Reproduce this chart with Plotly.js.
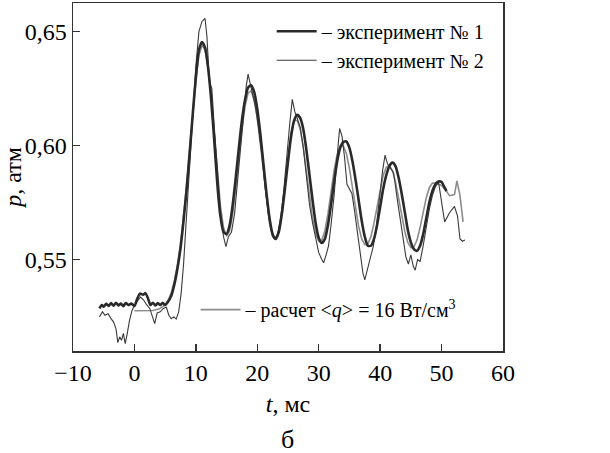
<!DOCTYPE html>
<html>
<head>
<meta charset="utf-8">
<script src="https://cdn.plot.ly/plotly-3.0.1.min.js"></script>
<style>
html,body{margin:0;padding:0;background:#fff;}
</style>
</head>
<body>
<div id="chart" style="width:610px;height:453px;"></div>
<script>
// Experiment No 1 (thick line)
const exp1T = [-5.7,-5.3,-5.0,-4.6,-4.2,-3.8,-3.4,-3.0,-2.6,-2.2,-1.8,-1.4,-1.0,-0.5,0,0.5,0.9,1.4,1.8,2.2,2.6,3.0,3.4,3.8,4.2,4.6,5.0,5.5,6.0,6.5,7.0,7.5,8.0,8.5,9.0,9.5,10.0,10.5,11.0,11.5,12.0,12.5,13.0,13.5,14.0,14.5,15.0,15.5,16.0,16.5,17.0,17.5,18.0,18.5,19.0,19.5,20.0,20.5,21.0,21.5,22.0,22.5,23.0,23.5,24.0,24.5,25.0,25.5,26.0,26.5,27.0,27.5,28.0,28.5,29.0,29.5,30.0,30.5,31.0,31.5,32.0,32.5,33.0,33.5,34.0,34.5,35.0,35.5,36.0,36.5,37.0,37.5,38.0,38.5,39.0,39.5,40.0,40.5,41.0,41.5,42.0,42.5,43.0,43.5,44.0,44.5,45.0,45.5,46.0,46.5,47.0,47.5,48.0,48.5,49.0,49.5,50.0,50.5,50.8];
const exp1P = [0.5285,0.5300,0.5292,0.5305,0.5296,0.5308,0.5297,0.5310,0.5298,0.5306,0.5295,0.5309,0.5300,0.5306,0.5296,0.5330,0.5350,0.5345,0.5352,0.5330,0.5300,0.5310,0.5298,0.5308,0.5300,0.5310,0.5300,0.5315,0.5340,0.5390,0.5460,0.5550,0.5670,0.5810,0.5970,0.6140,0.6300,0.6420,0.6455,0.6430,0.6340,0.6200,0.6020,0.5830,0.5690,0.5620,0.5612,0.5650,0.5740,0.5860,0.5990,0.6110,0.6200,0.6255,0.6265,0.6235,0.6160,0.6050,0.5920,0.5790,0.5680,0.5610,0.5590,0.5620,0.5700,0.5810,0.5930,0.6040,0.6110,0.6135,0.6120,0.6070,0.5980,0.5870,0.5760,0.5660,0.5595,0.5572,0.5590,0.5650,0.5740,0.5840,0.5930,0.5990,0.6015,0.6018,0.5990,0.5930,0.5850,0.5760,0.5670,0.5600,0.5560,0.5560,0.5590,0.5650,0.5730,0.5810,0.5870,0.5910,0.5925,0.5910,0.5860,0.5790,0.5710,0.5630,0.5575,0.5545,0.5538,0.5560,0.5610,0.5680,0.5750,0.5800,0.5830,0.5842,0.5840,0.5815,0.5800];

// Experiment No 2 (thin line)
const exp2T = [-5.7,-5.2,-4.8,-4.3,-3.8,-3.4,-3.0,-2.7,-2.4,-2.1,-1.8,-1.5,-1.2,-0.8,-0.4,0,0.5,1.0,1.5,2.0,2.5,3.0,3.3,3.7,4.2,4.7,5.2,5.6,6.0,6.4,6.8,7.2,7.6,8.0,8.5,9.0,9.5,10.0,10.5,11.0,11.5,11.8,12.2,12.6,13.0,13.5,14.0,14.5,14.9,15.3,15.8,16.3,16.8,17.3,17.8,18.2,18.5,18.8,19.2,19.7,20.2,20.8,21.3,21.8,22.3,22.8,23.3,23.8,24.3,24.8,25.3,25.7,26.1,26.5,27.0,27.5,28.0,28.5,29.0,29.5,30.0,30.5,30.8,31.2,31.6,32.0,32.5,33.0,33.4,33.8,34.2,34.6,35.0,35.4,35.8,36.3,36.8,37.2,37.5,37.9,38.4,38.9,39.4,39.9,40.4,40.8,41.2,41.7,42.2,42.7,43.2,43.7,44.2,44.6,45.0,45.4,45.7,46.1,46.5,47.0,47.5,48.0,48.5,49.0,49.5,50.0,50.5,51.3,52.1,52.6,53.0,53.4,53.8];
const exp2P = [0.5248,0.5270,0.5255,0.5262,0.5240,0.5225,0.5195,0.5135,0.5160,0.5145,0.5175,0.5130,0.5170,0.5232,0.5275,0.5300,0.5318,0.5335,0.5322,0.5300,0.5285,0.5240,0.5218,0.5265,0.5270,0.5285,0.5290,0.5255,0.5240,0.5248,0.5238,0.5270,0.5350,0.5480,0.5700,0.5930,0.6150,0.6350,0.6500,0.6545,0.6558,0.6480,0.6280,0.6250,0.6080,0.5880,0.5710,0.5600,0.5556,0.5600,0.5620,0.5700,0.5850,0.5980,0.6150,0.6260,0.6314,0.6280,0.6230,0.6170,0.6080,0.5950,0.5810,0.5700,0.5630,0.5590,0.5610,0.5680,0.5800,0.5960,0.6100,0.6203,0.6150,0.6120,0.6080,0.5990,0.5860,0.5740,0.5660,0.5600,0.5530,0.5500,0.5485,0.5520,0.5560,0.5650,0.5780,0.5950,0.6075,0.6040,0.5950,0.5830,0.5810,0.5790,0.5720,0.5620,0.5520,0.5440,0.5410,0.5450,0.5510,0.5560,0.5650,0.5780,0.5890,0.5958,0.5920,0.5900,0.5880,0.5780,0.5690,0.5600,0.5510,0.5480,0.5520,0.5470,0.5453,0.5500,0.5490,0.5560,0.5640,0.5720,0.5780,0.5820,0.5840,0.5750,0.5665,0.5705,0.5733,0.5690,0.5590,0.5580,0.5585];

// Calculation <q> = 16 W/cm3 (gray line)
const calcT = [0,1,2,3,4,5,5.5,6,6.5,7,7.5,8,8.5,9,9.5,10,10.5,11,11.5,12,12.5,13,13.5,14,14.5,15,15.5,16,16.5,17,17.5,18,18.5,19,19.5,20,20.5,21,21.5,22,22.5,23,23.5,24,24.5,25,25.5,26,26.5,27,27.5,28,28.5,29,29.5,30,30.5,31,31.5,32,32.5,33,33.5,34,34.5,35,35.5,36,36.5,37,37.5,38,38.5,39,39.5,40,40.5,41,41.5,42,42.5,43,43.5,44,44.5,45,45.5,46,46.5,47,47.5,48,48.5,49,49.5,50,50.5,51.3,52.1,52.5,53.0,53.5];
const calcP = [0.5275,0.5275,0.5275,0.5276,0.5282,0.5300,0.5322,0.5355,0.5405,0.5475,0.5565,0.5685,0.5825,0.5985,0.6145,0.6285,0.6395,0.6440,0.6420,0.6345,0.6215,0.6050,0.5880,0.5735,0.5640,0.5602,0.5625,0.5700,0.5815,0.5945,0.6070,0.6170,0.6230,0.6240,0.6200,0.6120,0.6005,0.5875,0.5755,0.5660,0.5600,0.5590,0.5630,0.5715,0.5830,0.5950,0.6055,0.6110,0.6110,0.6070,0.5990,0.5885,0.5775,0.5680,0.5612,0.5580,0.5585,0.5625,0.5700,0.5795,0.5890,0.5960,0.5998,0.6000,0.5965,0.5900,0.5815,0.5725,0.5645,0.5590,0.5565,0.5568,0.5600,0.5660,0.5735,0.5810,0.5870,0.5905,0.5912,0.5890,0.5840,0.5770,0.5695,0.5625,0.5575,0.5552,0.5555,0.5585,0.5640,0.5705,0.5770,0.5815,0.5835,0.5835,0.5830,0.5825,0.5810,0.5780,0.5785,0.5845,0.5780,0.5665];

const seriesNames = ['– эксперимент № 1', '– эксперимент № 2', '– расчет &lt;<i>q</i>&gt; = 16 Вт/см<sup>3</sup>'];
const xTickVals = [-10, 0, 10, 20, 30, 40, 50, 60];
const yTickVals = [0.55, 0.60, 0.65];

const FONT = 'Liberation Serif';

const traces = [
  {x: calcT, y: calcP, mode: 'lines', name: seriesNames[2], legend: 'legend2',
   line: {color: '#8c8c8c', width: 1.6}},
  {x: exp2T, y: exp2P, mode: 'lines', name: seriesNames[1], legend: 'legend',
   line: {color: '#3a3a3a', width: 1.1}},
  {x: exp1T, y: exp1P, mode: 'lines', name: seriesNames[0], legend: 'legend',
   line: {color: '#2a2a2a', width: 2.6, shape: 'spline', smoothing: 0.6}}
];

const layout = {
  width: 610, height: 453,
  margin: {l: 73, r: 107, t: 3, b: 102},
  paper_bgcolor: '#fff', plot_bgcolor: '#fff',
  separators: ', ',
  font: {family: FONT, size: 22, color: '#000'},
  showlegend: true,
  legend: {x: 0.462, y: 0.975, xanchor: 'left', yanchor: 'top', traceorder: 'reversed',
           bgcolor: 'rgba(0,0,0,0)', font: {family: FONT, size: 20, color: '#000'},
           itemwidth: 40, tracegroupgap: 0},
  legend2: {x: 0.285, y: 0.175, xanchor: 'left', yanchor: 'top',
            bgcolor: 'rgba(0,0,0,0)', font: {family: FONT, size: 20, color: '#000'},
            itemwidth: 40},
  xaxis: {range: [-10, 60], tickvals: xTickVals, ticks: 'inside', ticklen: 7, tickwidth: 1.3,
          tickcolor: '#333', showline: true, mirror: true, linecolor: '#333', linewidth: 1.5,
          showgrid: false, zeroline: false, tickfont: {family: FONT, size: 24},
          title: {text: '<i>t</i>, мс', font: {family: FONT, size: 24}, standoff: 10}},
  yaxis: {range: [0.5098, 0.6626], tickvals: yTickVals, tickformat: '.2f', ticks: 'inside',
          ticklen: 7, tickwidth: 1.3, tickcolor: '#333', showline: true, mirror: true,
          linecolor: '#333', linewidth: 1.5, showgrid: false, zeroline: false,
          tickfont: {family: FONT, size: 24},
          title: {text: '<i>p</i>, атм', font: {family: FONT, size: 24}, standoff: 6}},
  annotations: [
    {text: 'б', xref: 'paper', yref: 'paper', x: 0.498, y: -0.255, xanchor: 'center',
     yanchor: 'middle', showarrow: false, font: {family: FONT, size: 26, color: '#000'}}
  ]
};

Plotly.newPlot('chart', traces, layout, {displayModeBar: false, staticPlot: true});
</script>
</body>
</html>
